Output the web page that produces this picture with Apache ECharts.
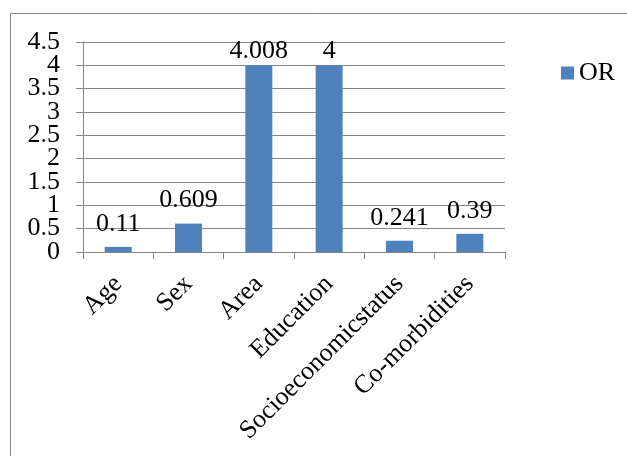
<!DOCTYPE html>
<html>
<head>
<meta charset="utf-8">
<script src="https://cdn.jsdelivr.net/npm/echarts@6/dist/echarts.min.js"></script>
<style>
  html, body { margin: 0; padding: 0; background: #fff; }
  #chart { width: 627px; height: 456px; }
</style>
</head>
<body>
<div id="chart"></div>
<script>
// 数据
var categories = ['Age', 'Sex', 'Area', 'Education', 'Socioeconomicstatus', 'Co-morbidities'];
var orValues = [0.11, 0.609, 4.008, 4, 0.241, 0.39];
var labelTexts = ['0.11', '0.609', '4.008', '4', '0.241', '0.39'];
var yTickLabels = ['0', '0.5', '1', '1.5', '2', '2.5', '3', '3.5', '4', '4.5'];

var myChart = echarts.init(document.getElementById('chart'));
var serif = 'Liberation Serif';
var gray = '#868686';

// 顶部的柱子标签贴近柱顶，其余留出间距
var barData = orValues.map(function (v) {
  return { value: v, label: { distance: v > 3 ? 1 : 10 } };
});

var option = {
  backgroundColor: '#fff',
  animation: false,
  // 外框
  graphic: [{
    type: 'rect',
    shape: { x: 10.5, y: 13.5, width: 640, height: 470 },
    style: { fill: 'none', stroke: '#8a8a8a', lineWidth: 1 }
  }],
  grid: { left: 83, top: 42, right: 122, bottom: 204 },
  legend: {
    left: 556, top: 55,
    itemWidth: 13, itemHeight: 13, itemGap: 6,
    icon: 'rect',
    textStyle: { fontFamily: serif, fontSize: 26, color: '#000' },
    data: ['OR']
  },
  xAxis: {
    type: 'category',
    data: categories,
    axisLine: { lineStyle: { color: gray } },
    axisTick: { show: true, length: 7, lineStyle: { color: gray } },
    axisLabel: {
      rotate: 45, interval: 0, margin: 28, hideOverlap: false,
      fontFamily: serif, fontSize: 26, color: '#000'
    }
  },
  yAxis: [{
    type: 'value',
    min: 0, max: 4.5, interval: 0.5,
    axisLine: { show: true, lineStyle: { color: gray } },
    axisTick: { show: true, length: 7, lineStyle: { color: gray } },
    splitLine: { lineStyle: { color: gray } },
    axisLabel: { show: false }
  }, {
    // 刻度文字单独用类目轴画，避免重叠被隐藏
    type: 'category',
    position: 'left',
    data: yTickLabels,
    boundaryGap: false,
    axisLine: { show: false },
    axisTick: { show: false },
    splitLine: { show: false },
    axisLabel: {
      interval: 0, margin: 23, hideOverlap: false,
      fontFamily: serif, fontSize: 26, color: '#000'
    }
  }],
  series: [{
    name: 'OR',
    type: 'bar',
    yAxisIndex: 0,
    data: barData,
    barWidth: 27,
    itemStyle: { color: '#4F81BD' },
    label: {
      show: true, position: 'top',
      fontFamily: serif, fontSize: 26, color: '#000',
      formatter: function (p) { return labelTexts[p.dataIndex]; }
    }
  }]
};

myChart.setOption(option);
</script>
</body>
</html>
